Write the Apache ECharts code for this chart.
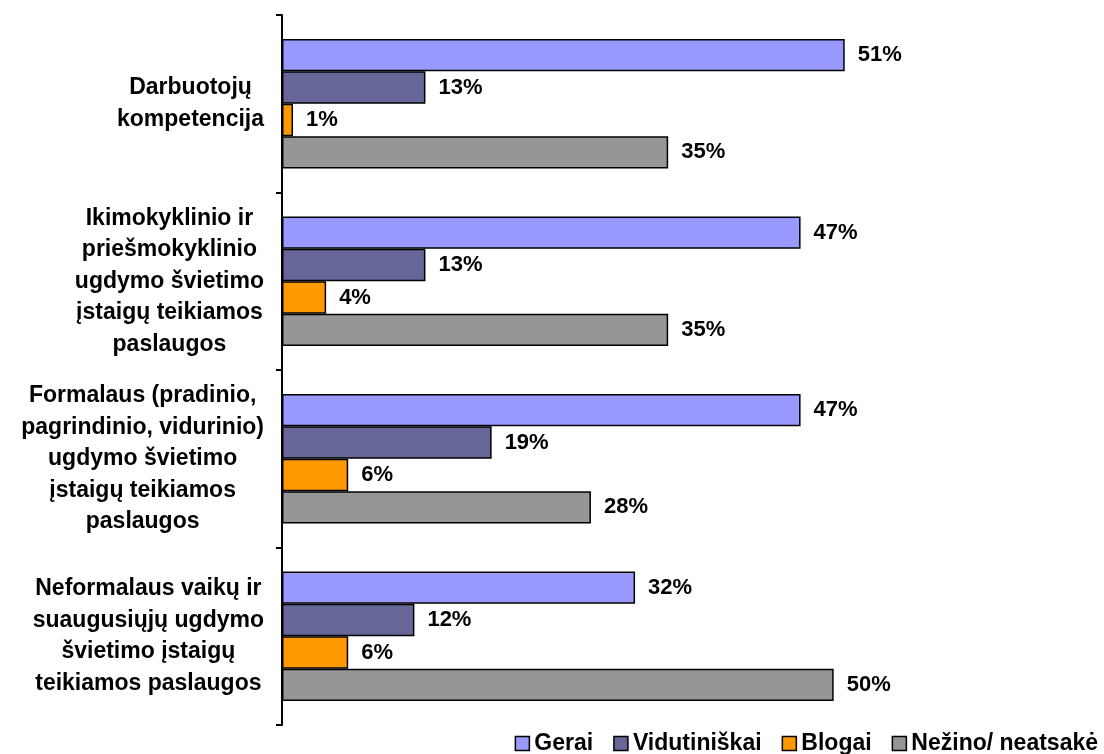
<!DOCTYPE html>
<html>
<head>
<meta charset="utf-8">
<script src="https://cdn.jsdelivr.net/npm/echarts@6/dist/echarts.min.js"></script>
<style>
html,body{margin:0;padding:0;background:#fff;}
#chart{width:1104px;height:754px;}
</style>
</head>
<body>
<div id="chart"></div>
<script>
var categories = [
  "Darbuotojų\nkompetencija",
  "Ikimokyklinio ir\npriešmokyklinio\nugdymo švietimo\nįstaigų teikiamos\npaslaugos",
  "Formalaus (pradinio,\npagrindinio, vidurinio)\nugdymo švietimo\nįstaigų teikiamos\npaslaugos",
  "Neformalaus vaikų ir\nsuaugusiųjų ugdymo\nšvietimo įstaigų\nteikiamos paslaugos"
];
var seriesNames = ["Gerai", "Vidutiniškai", "Blogai", "Nežino/ neatsakė"];
var gerai = [51, 47, 47, 32];
var vidutiniskai = [13, 13, 19, 12];
var blogai = [1, 4, 6, 6];
var nezino = [35, 35, 28, 50];
var colors = ["#9999FF", "#666699", "#FF9900", "#969696"];

var FONT = "'Liberation Sans', Arial, sans-serif";
var allData = [gerai, vidutiniskai, blogai, nezino];

var series = allData.map(function (d, i) {
  return {
    name: seriesNames[i],
    type: 'bar',
    data: d,
    barGap: '0%',
    barCategoryGap: '27%',
    itemStyle: { color: colors[i], borderColor: '#000', borderWidth: 1.5 },
    label: {
      show: true,
      position: 'right',
      distance: 13,
      formatter: '{c}%',
      color: '#000',
      fontFamily: FONT,
      fontWeight: 'bold',
      fontSize: 22
    },
    emphasis: { disabled: true },
    animation: false
  };
});

var chart = echarts.init(document.getElementById('chart'), null, { renderer: 'canvas' });
chart.setOption({
  animation: false,
  backgroundColor: '#fff',
  grid: { left: 282, top: 15, bottom: 29, width: 662, containLabel: false },
  xAxis: {
    type: 'value', min: 0, max: 60, show: false,
    splitLine: { show: false }
  },
  yAxis: {
    type: 'category',
    data: categories,
    inverse: true,
    axisLine: { show: true, lineStyle: { color: '#000', width: 2 } },
    axisTick: { show: true, length: 6, lineStyle: { color: '#000', width: 2 } },
    axisLabel: {
      margin: 18,
      align: 'right',
      color: '#000',
      fontFamily: FONT,
      fontWeight: 'bold',
      fontSize: 23,
      lineHeight: 31.5,
      formatter: function (v) {
        return v.split('\n').map(function (l) { return '{c|' + l + '}'; }).join('\n');
      },
      rich: {
        c: { align: 'center', fontFamily: FONT, fontWeight: 'bold', fontSize: 23, lineHeight: 31.5, color: '#000' }
      }
    }
  },
  legend: {
    data: seriesNames,
    right: 6,
    bottom: -1,
    padding: 0,
    icon: 'rect',
    itemWidth: 14,
    itemHeight: 14,
    itemGap: 20,
    itemStyle: { borderColor: '#000', borderWidth: 1.5 },
    textStyle: { color: '#000', fontFamily: FONT, fontWeight: 'bold', fontSize: 23, padding: [0, 0, 0, 0] }
  },
  series: series
});
</script>
</body>
</html>
